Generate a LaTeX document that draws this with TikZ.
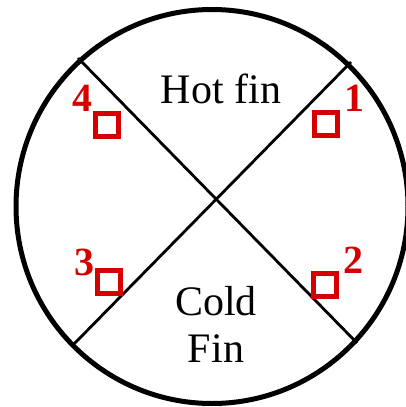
\documentclass[tikz,border=0pt]{standalone}
\usepackage{fontspec}
\setmainfont{Liberation Serif}
\definecolor{fred}{RGB}{214,0,0}
\begin{document}
\begin{tikzpicture}[x=1pt,y=-1pt,
  sq/.style={draw=fred,line width=5pt,minimum size=23pt,inner sep=0pt},
  num/.style={text=fred,font=\fontsize{40}{42}\selectfont\bfseries,inner sep=0pt,anchor=base},
  lab/.style={font=\fontsize{42}{47}\selectfont,inner sep=0pt,anchor=base},
  fin/.style={line width=2.8pt}]
\useasboundingbox (0,0) rectangle (406,407);
\draw[line width=5pt] (212,206.5) ellipse [x radius=196,y radius=197];
\coordinate (nw) at (78,58);
\coordinate (se) at (357,343);
\coordinate (ne) at (351,62);
\coordinate (sw) at (73,345);
\draw[fin] (nw) -- (se);
\draw[fin] (ne) -- (sw);
\node[lab] (hot) at (221,103) {Hot fin};
\node[lab] (cold) at (216,315) {Cold};
\node[lab] (fin) at (216,362) {Fin};
\node[sq] (s1) at (326,123.7) {};
\node[sq] (s2) at (324.7,284.5) {};
\node[sq] (s3) at (109,282) {};
\node[sq] (s4) at (107,124.5) {};
\node[num] (n1) at (354.7,111.7) {1};
\node[num] (n2) at (353,273.3) {2};
\node[num] (n3) at (84,275) {3};
\node[num] (n4) at (82.5,111.7) {4};
\end{tikzpicture}
\end{document}
